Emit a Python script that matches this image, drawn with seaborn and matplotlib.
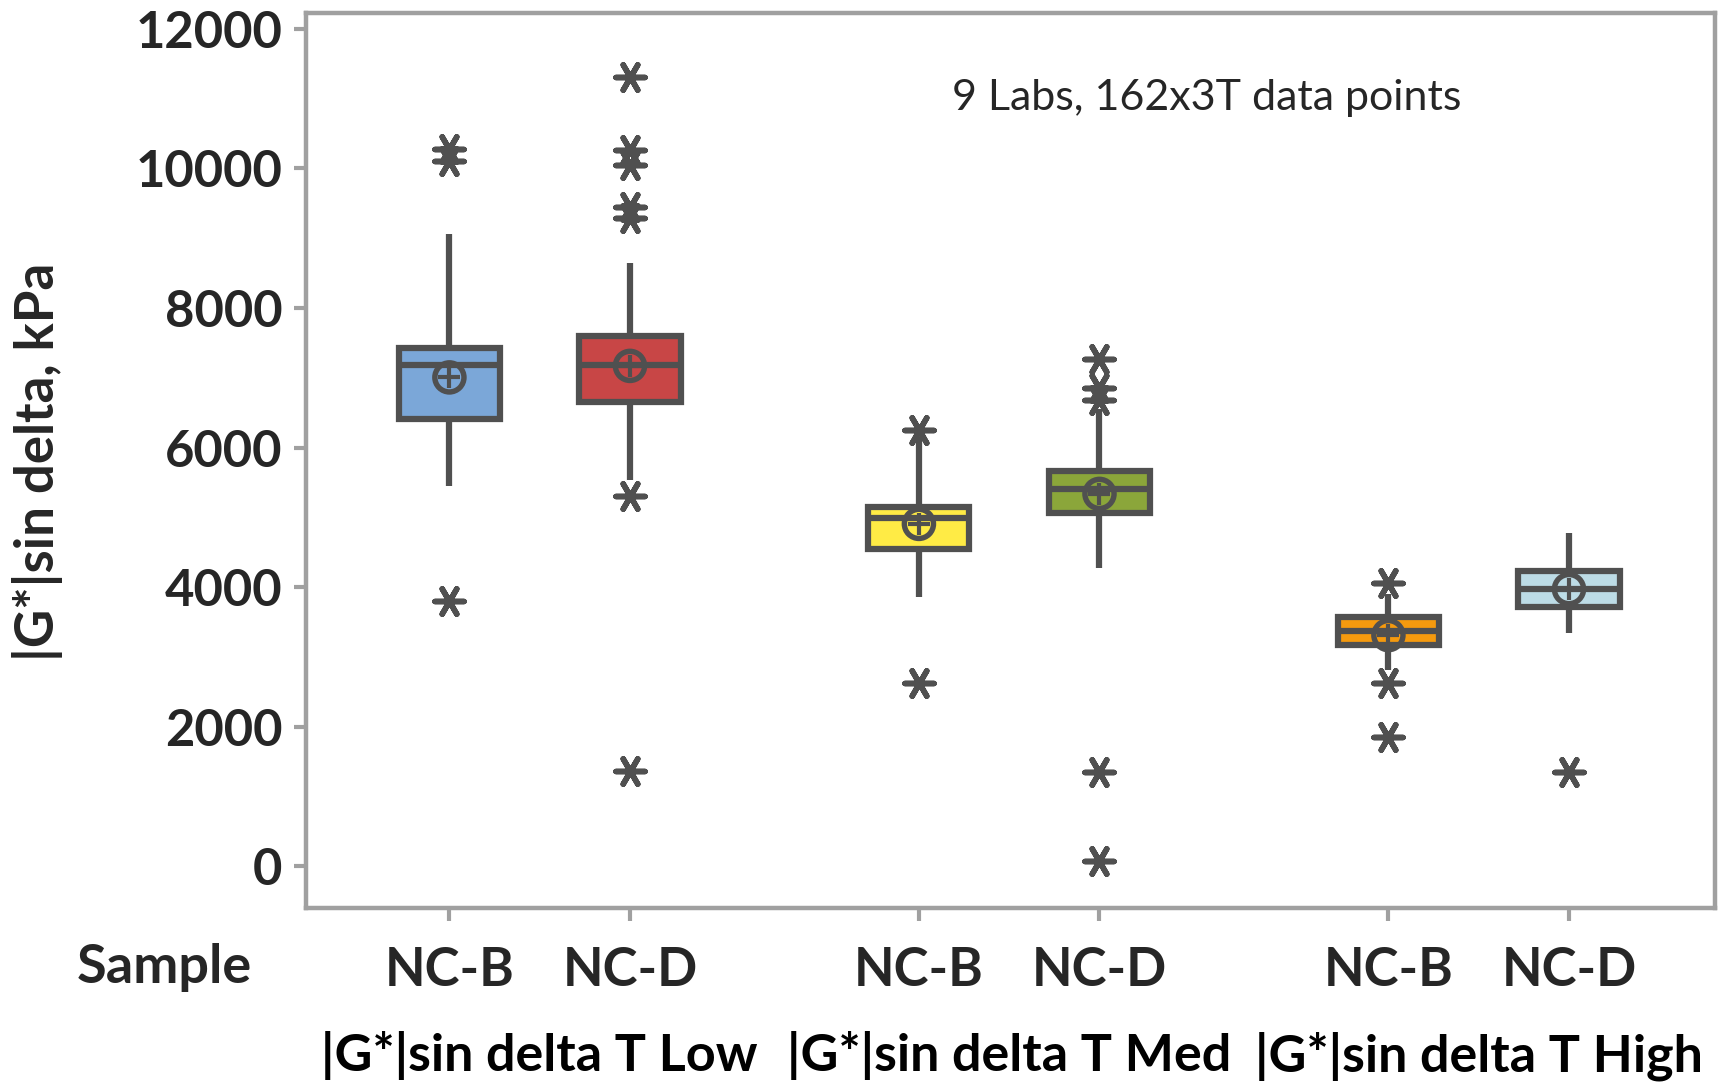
import numpy as np
import pandas as pd
import matplotlib
matplotlib.use("Agg")
import matplotlib.pyplot as plt
import matplotlib.transforms as mtransforms
import seaborn as sns

# ---------------- data ----------------
groups = ["|G*|sin delta T Low", "|G*|sin delta T Med", "|G*|sin delta T High"]
samples = ["NC-B", "NC-D", "NC-B", "NC-D", "NC-B", "NC-D"]
whisker_low = [5450, 5530, 3860, 4270, 2810, 3340]
q1 = [6410, 6655, 4550, 5060, 3170, 3710]
median = [7180, 7180, 4990, 5410, 3375, 3970]
q3 = [7425, 7600, 5150, 5665, 3565, 4235]
whisker_high = [9060, 8640, 6150, 6550, 3900, 4770]
means = [7005, 7170, 4905, 5335, 3310, 3970]
outliers = [
    [10275, 10110, 3800],
    [11315, 10265, 10055, 9450, 9285, 5310, 1360],
    [6250, 2630],
    [7265, 6855, 6675, 1355, 75],
    [4055, 2620, 1855],
    [1355],
]
box_colors = ["#7BA7D8", "#C84646", "#FFEB45", "#8BA63A", "#F59A0E", "#BDDCE6"]
annotation = "9 Labs, 162x3T data points"
y_ticks = [0, 2000, 4000, 6000, 8000, 10000, 12000]

# ---------------- layout ----------------
positions = [0.0, 1.0, 2.6, 3.6, 5.2, 6.2]
group_centers = [0.5, 3.1, 5.7]
dark = "#505050"
frame = "#A0A0A0"

rows = []
for i in range(6):
    for v in [whisker_low[i], q1[i], median[i], q3[i], whisker_high[i]]:
        rows.append({"pos": positions[i], "box": f"b{i}", "value": v})
df = pd.DataFrame(rows)

out_rows = []
for i in range(6):
    for v in outliers[i]:
        out_rows.append({"pos": positions[i], "value": v})
df_out = pd.DataFrame(out_rows)

sns.set_theme(style="white")
plt.rcParams["font.family"] = ["Lato", "DejaVu Sans"]
plt.rcParams["font.weight"] = "bold"

fig = plt.figure(figsize=(17.27, 10.84), dpi=100)
ax = fig.add_axes([0.1772, 0.1628, 0.993 - 0.1772, 0.988 - 0.1628])

sns.boxplot(
    data=df, x="pos", y="value", hue="box", palette=box_colors,
    native_scale=True, dodge=False, whis=(0, 100), showcaps=False,
    showfliers=False, width=0.56, saturation=1, linecolor=dark,
    linewidth=4.5, legend=False, ax=ax,
)

sns.scatterplot(
    data=df_out, x="pos", y="value", marker=(6, 2, 30), s=440,
    color=dark, linewidth=4.0, ax=ax, zorder=5,
)

ax.scatter(positions, means, marker="o", s=440, facecolors="none",
           edgecolors=dark, linewidths=3.9, zorder=6)
ax.scatter(positions, means, marker="+", s=260, color=dark,
           linewidths=3.0, zorder=6)

ax.set_xlim(-0.794, 7.008)
ax.set_ylim(-595, 12229)
ax.set_yticks(y_ticks)
ax.set_yticklabels([str(t) for t in y_ticks], fontsize=36.5, fontweight="bold")
ax.set_xticks(positions)
ax.set_xticklabels(samples, fontsize=38, fontweight="bold")
ax.set_xlabel("")
ax.set_ylabel("")

for sp in ax.spines.values():
    sp.set_visible(True)
    sp.set_color(frame)
    sp.set_linewidth(3.2)
ax.tick_params(axis="both", which="major", direction="out", length=9,
               width=3, color=frame, left=True, bottom=True)
ax.tick_params(axis="y", pad=8)
ax.tick_params(axis="x", pad=19)

trans = mtransforms.blended_transform_factory(ax.transData, fig.transFigure)
for gc, g in zip(group_centers, groups):
    ax.text(gc, 1 - 1056 / 1084, g, transform=trans, ha="center", va="center",
            fontsize=37.5, fontweight="bold", color="black")

fig.text(164 / 1727, 1 - 967 / 1084, "Sample", ha="center", va="center",
         fontsize=39, fontweight="bold")
fig.text(38 / 1727, 1 - 461.5 / 1084, "|G*|sin delta, kPa", ha="center",
         va="center", rotation=90, fontsize=38, fontweight="bold")
fig.text(1207 / 1727, 1 - 98 / 1084, annotation, ha="center", va="center",
         fontsize=31, fontweight="normal")

fig.savefig("out.png", dpi=100)
